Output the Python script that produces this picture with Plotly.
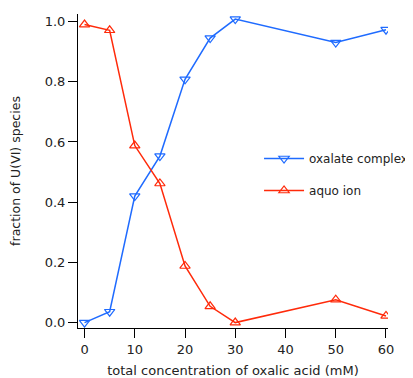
import plotly.graph_objects as go

conc = [0, 5, 10, 15, 20, 25, 30, 50, 60]
oxalate_complex = [0.0, 0.036, 0.42, 0.553, 0.808, 0.945, 1.008, 0.93, 0.973]
aquo_ion = [0.99, 0.971, 0.588, 0.462, 0.188, 0.054, 0.0, 0.076, 0.022]

x_ticks = [0, 10, 20, 30, 40, 50, 60]
y_ticks = [0.0, 0.2, 0.4, 0.6, 0.8, 1.0]

blue = "#1f6bff"
red = "#ff2a0a"
font = "DejaVu Sans"

fig = go.Figure()
fig.add_trace(go.Scatter(x=conc, y=oxalate_complex, mode="lines+markers",
                         name="oxalate complex", legendgroup="a",
                         line=dict(color=blue, width=1.5),
                         marker=dict(symbol="triangle-down-open", size=9, color=blue, line=dict(width=1.2))))
fig.add_trace(go.Scatter(x=conc, y=aquo_ion, mode="lines+markers",
                         name="aquo ion", legendgroup="b",
                         line=dict(color=red, width=1.5),
                         marker=dict(symbol="triangle-up-open", size=9, color=red, line=dict(width=1.2))))

# page body has an 8px margin: figure sized to fit the 413x378 window
fig.update_layout(
    width=405, height=370,
    margin=dict(l=70, r=25, t=6, b=50, autoexpand=False),
    plot_bgcolor="white", paper_bgcolor="white",
    font=dict(family=font, size=13, color="#222"),
    legend=dict(x=0.584, y=0.586, xanchor="left", yanchor="top",
                bgcolor="rgba(0,0,0,0)", font=dict(size=12),
                traceorder="grouped", tracegroupgap=13, itemwidth=40),
    xaxis=dict(range=[-1.3, 60.4], tickvals=x_ticks, ticktext=[str(v) for v in x_ticks],
               showline=True, linecolor="black", linewidth=1, ticks="outside", ticklen=9,
               tickcolor="black", showgrid=False, zeroline=False, tickfont=dict(size=13),
               automargin=False,
               title=dict(text="total concentration of oxalic acid (mM)", font=dict(size=13), standoff=10)),
    yaxis=dict(range=[-0.018, 1.025], tickvals=y_ticks, ticktext=[f"{v:.1f}" for v in y_ticks],
               showline=True, linecolor="black", linewidth=1, ticks="outside", ticklen=9,
               tickcolor="black", showgrid=False, zeroline=False, tickfont=dict(size=13),
               automargin=False,
               title=dict(text="fraction of U(VI) species", font=dict(size=12.5), standoff=22)),
)

fig.write_html("out.html")
